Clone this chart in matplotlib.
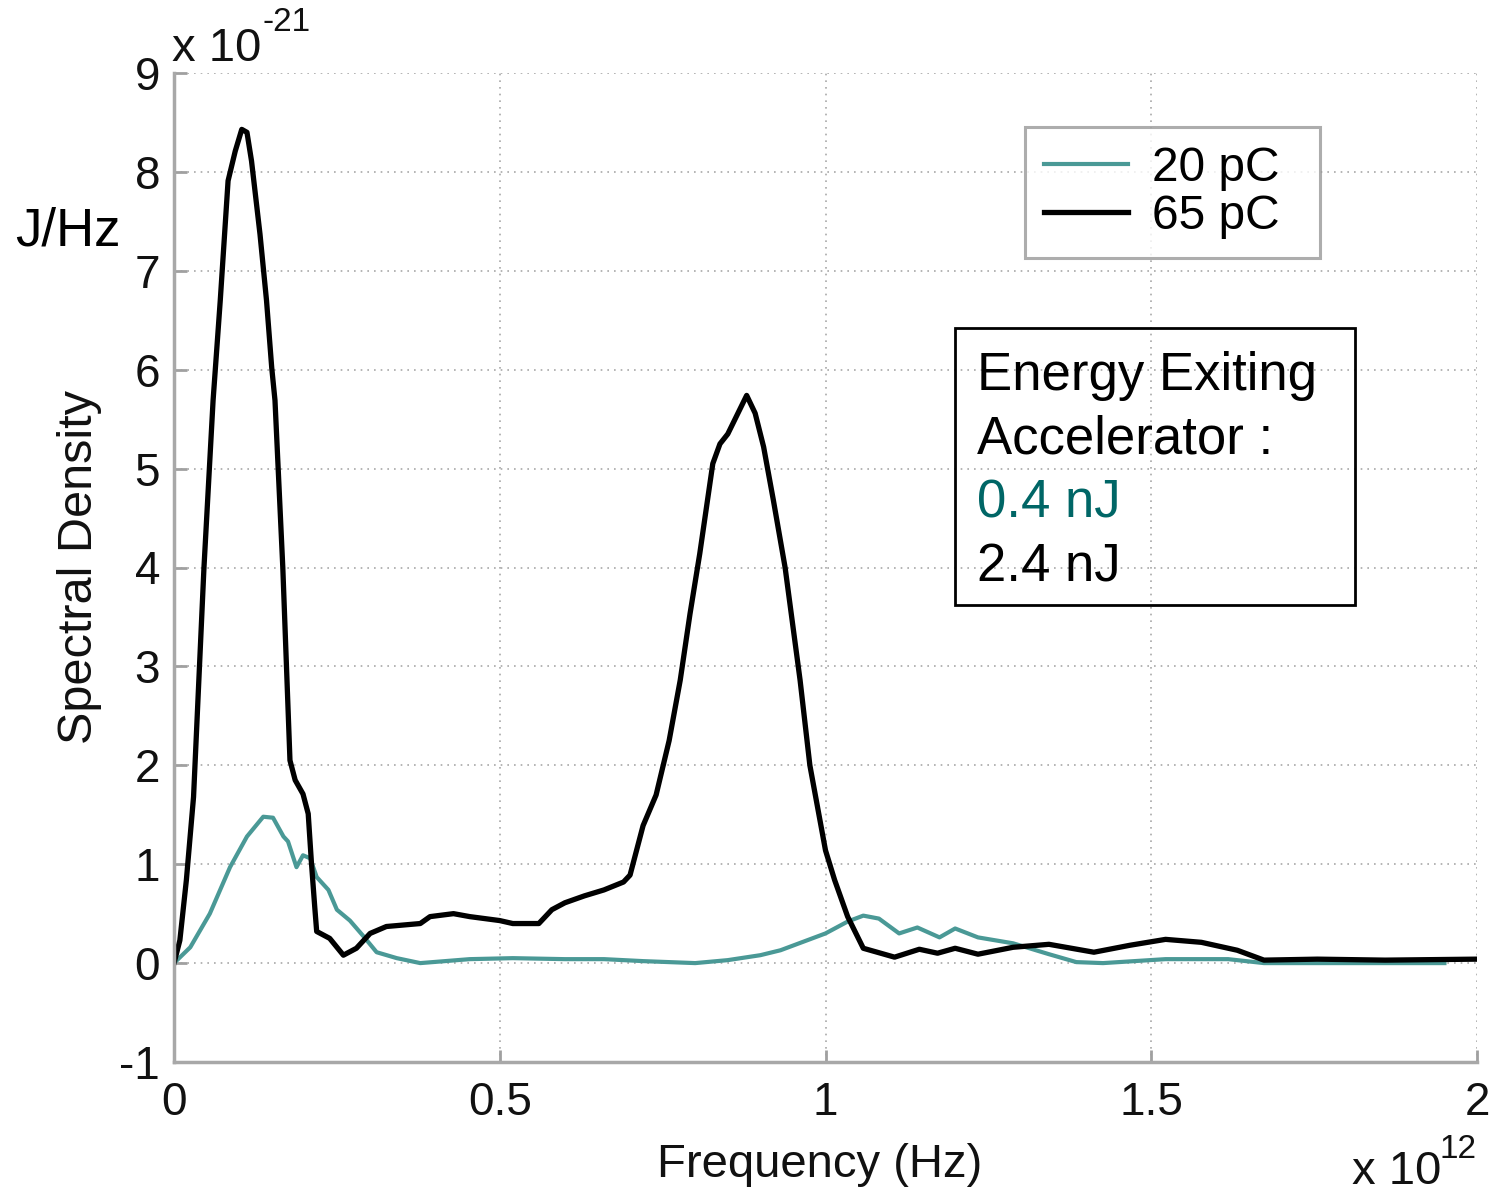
import numpy as np
import matplotlib.pyplot as plt
from matplotlib.patches import Rectangle

plt.rcParams['font.family'] = ['Liberation Sans', 'DejaVu Sans']
plt.rcParams['axes.unicode_minus'] = False

# frequency in units of 1e12 Hz, spectral density in units of 1e-21 J/Hz
f_20pc = [0, 0.025, 0.055, 0.086, 0.112, 0.137, 0.152, 0.168, 0.175, 0.188,
          0.198, 0.209, 0.219, 0.237, 0.25, 0.27, 0.291, 0.311, 0.342, 0.378,
          0.454, 0.52, 0.6, 0.66, 0.72, 0.8, 0.85, 0.9, 0.931, 1.0,
          1.034, 1.058, 1.082, 1.113, 1.141, 1.175, 1.199, 1.234, 1.288, 1.343,
          1.385, 1.426, 1.522, 1.618, 1.673, 1.824, 1.95]
s_20pc = [0, 0.16, 0.50, 0.97, 1.28, 1.48, 1.47, 1.28, 1.23, 0.97,
          1.09, 1.06, 0.87, 0.74, 0.54, 0.43, 0.27, 0.11, 0.05, 0.00,
          0.04, 0.05, 0.04, 0.04, 0.02, 0.00, 0.03, 0.08, 0.13, 0.30,
          0.42, 0.48, 0.45, 0.30, 0.36, 0.26, 0.35, 0.26, 0.20, 0.09,
          0.01, 0.0, 0.04, 0.04, 0.0, 0.0, 0.0]

f_65pc = [0, 0.009, 0.019, 0.03, 0.046, 0.060, 0.071, 0.083, 0.094, 0.104,
          0.112, 0.119, 0.132, 0.142, 0.150, 0.155, 0.167, 0.178, 0.186, 0.198,
          0.206, 0.211, 0.216, 0.219, 0.239, 0.26, 0.28, 0.301, 0.326, 0.378,
          0.393, 0.429, 0.454, 0.5, 0.52, 0.56, 0.58, 0.6, 0.63, 0.66,
          0.69, 0.70, 0.72, 0.74, 0.76, 0.777, 0.792, 0.807, 0.827, 0.838,
          0.850, 0.879, 0.892, 0.905, 0.92, 0.938, 0.961, 0.976, 1.0, 1.014,
          1.034, 1.058, 1.106, 1.144, 1.172, 1.199, 1.234, 1.288, 1.343, 1.412,
          1.467, 1.522, 1.577, 1.632, 1.673, 1.755, 1.859, 2.0]
s_65pc = [0, 0.23, 0.84, 1.68, 4.0, 5.69, 6.70, 7.91, 8.21, 8.43,
          8.40, 8.11, 7.37, 6.70, 6.02, 5.69, 4.0, 2.05, 1.85, 1.71,
          1.51, 1.01, 0.57, 0.32, 0.25, 0.08, 0.15, 0.30, 0.37, 0.40,
          0.47, 0.50, 0.47, 0.43, 0.40, 0.40, 0.54, 0.61, 0.68, 0.74,
          0.82, 0.89, 1.39, 1.70, 2.25, 2.86, 3.53, 4.14, 5.05, 5.25,
          5.35, 5.74, 5.56, 5.22, 4.68, 4.0, 2.86, 2.0, 1.14, 0.84,
          0.47, 0.15, 0.06, 0.14, 0.10, 0.15, 0.09, 0.16, 0.19, 0.11,
          0.18, 0.24, 0.21, 0.13, 0.03, 0.04, 0.03, 0.04]

xticks = [0, 0.5, 1, 1.5, 2]
xticklabels = ['0', '0.5', '1', '1.5', '2']
yticks = list(range(-1, 10))

teal = '#4a9996'
txt = '#111111'

fig = plt.figure(figsize=(14.97, 11.92), dpi=100)
ax = fig.add_axes([174/1497, 1-1062/1192, 1303/1497, 989/1192])

ax.plot(f_20pc, s_20pc, color=teal, lw=3.0, label='20 pC')
ax.plot(f_65pc, s_65pc, color='black', lw=3.8, label='65 pC')

ax.set_xlim(0, 2)
ax.set_ylim(-1, 9)
ax.set_xticks(xticks)
ax.set_xticklabels(xticklabels)
ax.set_yticks(yticks)
ax.grid(True, linestyle=(0, (1, 3)), color='#a8a8a8', lw=1.2)
for s in ['top', 'right']:
    ax.spines[s].set_visible(False)
for s in ['left', 'bottom']:
    ax.spines[s].set_color('#a8a8a8')
    ax.spines[s].set_linewidth(2.5)
ax.tick_params(direction='in', length=9, width=2, color='#a0a0a0',
               labelsize=33, labelcolor=txt)
ax.tick_params(axis='y', pad=10)
ax.tick_params(axis='x', pad=14)

# legend spread over the box width of the original
lx, lw_, ltop = (1025-174)/1303, 295/1303, (1062-127)/989
leg = ax.legend(loc='upper left', bbox_to_anchor=(lx, ltop-0.2, lw_, 0.2),
                mode='expand', fontsize=34.5, frameon=True, fancybox=False,
                handlelength=1.75, handletextpad=0.5, labelspacing=0.05,
                borderpad=0.4, borderaxespad=0)
leg.get_frame().set_edgecolor('#999999')
leg.get_frame().set_linewidth(2.2)

# annotation box
fig.patches.append(Rectangle((955/1497, 1-605/1192), 400/1497, 277/1192,
                             transform=fig.transFigure, fill=False,
                             edgecolor='black', lw=2))
lines = [('Energy Exiting', 'black'), ('Accelerator :', 'black'),
         ('0.4 nJ', '#006666'), ('2.4 nJ', 'black')]
for i, (t, c) in enumerate(lines):
    fig.text(977/1497, 1-(390 + 64*i)/1192, t, color=c, fontsize=38,
             va='baseline', ha='left')

# axis labels and exponents
fig.text(820/1497, 1-1165/1192, 'Frequency (Hz)', fontsize=34, color=txt,
         ha='center', va='center')
fig.text(80/1497, 1-567/1192, 'Spectral Density', fontsize=35, color=txt,
         ha='center', va='center', rotation=90)
fig.text(15/1497, 1-245/1192, 'J/Hz', fontsize=38, color='black',
         ha='left', va='baseline')
fig.text(172/1497, 1-61/1192, 'x 10', fontsize=34, color=txt, va='baseline')
fig.text(263/1497, 1-31/1192, '-21', fontsize=24, color=txt, va='baseline')
fig.text(1352/1497, 1-1184/1192, 'x 10', fontsize=34, color=txt, va='baseline')
fig.text(1440/1497, 1-1158/1192, '12', fontsize=24, color=txt, va='baseline')

fig.savefig('out.png', dpi=100)
